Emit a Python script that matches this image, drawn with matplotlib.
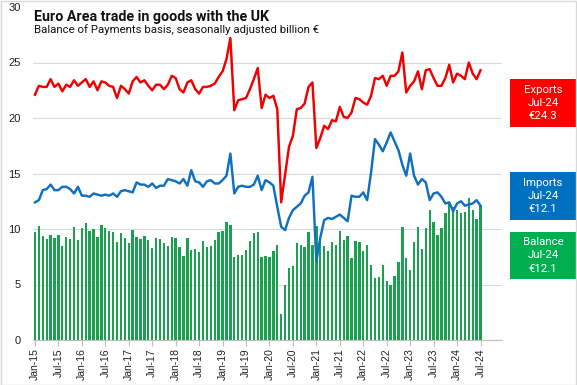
import matplotlib
matplotlib.use("Agg")
import matplotlib.pyplot as plt
from matplotlib.patches import Rectangle
import numpy as np

# ---------------- data (billion EUR, monthly Jan-15 .. Jul-24) ----------------
exports = [22.1, 22.9, 22.8, 22.8, 23.5, 22.8, 23.1, 22.4, 23.0, 22.8,
           23.4, 22.9, 23.2, 23.5, 22.8, 23.3, 22.5, 23.3, 23.2, 22.9,
           22.8, 21.8, 22.9, 22.6, 22.2, 23.3, 23.7, 23.2, 23.4, 22.9,
           22.5, 23.0, 23.0, 22.6, 23.0, 23.8, 23.6, 22.6, 22.3, 23.2,
           23.4, 22.6, 22.2, 22.8, 22.8, 22.9, 23.1, 23.7, 24.2, 25.3,
           27.2, 20.7, 21.6, 21.7, 21.8, 22.6, 23.5, 24.5, 20.9, 22.1,
           21.8, 22.0, 20.8, 12.4, 14.9, 17.4, 18.4, 20.8, 20.9, 21.3,
           22.8, 23.2, 17.3, 18.2, 19.3, 19.0, 19.8, 19.7, 21.0, 20.1,
           20.0, 20.5, 21.8, 21.7, 21.4, 21.2, 22.0, 23.6, 23.5, 23.8,
           22.9, 23.8, 23.8, 24.2, 25.9, 22.3, 22.9, 23.3, 24.2, 22.6,
           24.3, 24.4, 23.6, 22.9, 22.9, 23.6, 24.8, 23.2, 24.0, 23.8,
           23.5, 25.0, 24.0, 23.5, 24.3]

imports = [12.4, 12.6, 13.5, 13.6, 14.0, 13.5, 13.5, 13.8, 13.8, 13.6,
           13.2, 13.8, 13.0, 13.0, 12.9, 13.2, 13.1, 13.0, 13.1, 13.0,
           13.2, 12.9, 13.4, 13.5, 13.4, 13.3, 14.2, 14.0, 14.0, 13.8,
           14.1, 13.7, 13.9, 13.9, 14.5, 14.4, 14.3, 14.1, 14.5, 13.9,
           15.3, 14.3, 14.2, 13.8, 14.3, 14.4, 14.1, 14.1, 14.4, 14.8,
           16.8, 13.2, 13.8, 13.9, 13.8, 13.8, 14.0, 14.8, 13.5, 14.4,
           14.2, 13.9, 12.0, 10.2, 9.9, 11.0, 11.7, 12.0, 12.3, 13.0,
           13.3, 14.7, 7.1, 9.2, 10.8, 11.0, 10.9, 11.1, 11.3, 11.0,
           10.7, 13.0, 12.9, 12.9, 13.3, 12.6, 15.1, 18.1, 17.6, 17.0,
           17.8, 18.7, 17.9, 17.1, 15.8, 14.8, 16.8, 14.8, 14.0, 14.5,
           14.2, 12.6, 13.2, 13.3, 12.9, 12.3, 12.4, 11.6, 12.3, 12.5,
           12.1, 12.2, 12.3, 12.6, 12.1]

balance = [9.7, 10.3, 9.4, 9.1, 9.5, 9.2, 9.5, 8.5, 9.3, 9.1,
           10.2, 9.0, 10.1, 10.5, 9.8, 10.0, 9.3, 10.4, 10.1, 9.8,
           9.7, 8.8, 9.6, 9.2, 8.7, 9.9, 9.3, 9.1, 9.4, 9.0,
           8.3, 9.2, 9.1, 8.7, 8.5, 9.3, 9.2, 8.4, 7.6, 9.2,
           8.1, 8.2, 7.9, 8.9, 8.4, 8.5, 9.0, 9.7, 9.8, 10.6,
           10.4, 7.5, 7.7, 7.7, 8.1, 8.9, 9.6, 9.7, 7.5, 7.6,
           7.5, 8.0, 8.6, 2.3, 5.0, 6.5, 6.7, 8.7, 8.6, 8.4,
           9.7, 8.6, 10.3, 9.0, 8.5, 8.0, 8.8, 8.6, 9.8, 9.0,
           9.4, 7.4, 8.9, 8.8, 8.0, 8.6, 6.8, 5.6, 5.7, 6.8,
           5.3, 5.0, 5.8, 7.0, 10.2, 7.4, 6.3, 8.8, 10.2, 8.2,
           10.1, 11.7, 10.6, 9.5, 10.1, 11.4, 12.3, 12.0, 11.7, 11.4,
           11.5, 12.8, 11.7, 10.9, 12.1]

tick_labels = ["Jan-15", "Jul-15", "Jan-16", "Jul-16", "Jan-17", "Jul-17",
               "Jan-18", "Jul-18", "Jan-19", "Jul-19", "Jan-20", "Jul-20",
               "Jan-21", "Jul-21", "Jan-22", "Jul-22", "Jan-23", "Jul-23",
               "Jan-24", "Jul-24"]
latest_month = "Jul-24"
n_slots = 120  # axis runs Jan-15 .. Dec-24

title = "Euro Area trade in goods with the UK"
subtitle = "Balance of Payments basis, seasonally adjusted billion \u20ac"

# ---------------- styling ----------------
C_EXP = "#F00000"
C_IMP = "#1070C0"
C_BAL = "#19A150"
BOX_EXP = "#FF0000"
BOX_IMP = "#0070C0"
BOX_BAL = "#00B050"

W, H = 577, 385
fig = plt.figure(figsize=(W / 100, H / 100), dpi=100)
fig.patch.set_facecolor("white")

ax = fig.add_axes([33 / W, 45 / H, 469 / W, 333 / H])
x = np.arange(len(exports))
ax.bar(x, balance, width=0.6, color=C_BAL, zorder=2, linewidth=0)
ax.plot(x, imports, color=C_IMP, lw=1.75, zorder=3, solid_joinstyle="round")
ax.plot(x, exports, color=C_EXP, lw=1.75, zorder=3, solid_joinstyle="round")

ax.set_xlim(-0.5, n_slots - 0.5)
ax.set_ylim(0, 30)
ax.set_yticks(range(0, 31, 5))
ax.yaxis.grid(True, color="#d9d9d9", lw=0.8)
ax.set_axisbelow(True)
ax.yaxis.get_gridlines()[-1].set_visible(False)
for s in ["top", "right", "left"]:
    ax.spines[s].set_visible(False)
ax.spines["bottom"].set_color("#bfbfbf")
ax.spines["bottom"].set_linewidth(0.8)
ax.tick_params(axis="y", length=0, pad=9, labelsize=8, labelcolor="#222222")
ax.set_xticks(range(0, len(exports), 6))
ax.set_xticklabels(tick_labels, rotation=90, fontsize=7.5, color="#222222",
                   family="Liberation Sans")
for lab in ax.get_yticklabels():
    lab.set_family("Liberation Sans")
ax.tick_params(axis="x", length=4, color="#bfbfbf", width=0.8, pad=2)

# title / subtitle
fig.text(34 / W, 1 - 21.5 / H, title, fontsize=10.3, fontweight="bold",
         family="Roboto", va="baseline", ha="left", color="#111111")
fig.text(34 / W, 1 - 33 / H, subtitle, fontsize=8.2, family="Roboto",
         va="baseline", ha="left", color="#111111")

# right-hand boxes
boxes = [("Exports", exports[-1], BOX_EXP, 79, 127),
         ("Imports", imports[-1], BOX_IMP, 172, 220),
         ("Balance", balance[-1], BOX_BAL, 232, 279)]
for name, val, col, top, bot in boxes:
    fig.add_artist(Rectangle((510 / W, 1 - bot / H), 66 / W, (bot - top) / H,
                             transform=fig.transFigure, facecolor=col,
                             edgecolor="none"))
    fig.text(543 / W, 1 - (top + bot) / 2 / H,
             f"{name}\n{latest_month}\n\u20ac{val:.1f}",
             ha="center", va="center", color="white", fontsize=8.2,
             family="Roboto", linespacing=1.4)

# figure border
fig.add_artist(Rectangle((0.5 / W, 0.5 / H), (W - 1.5) / W, (H - 1.5) / H,
                         transform=fig.transFigure, facecolor="none",
                         edgecolor="#d9d9d9", lw=1))

fig.savefig("out.png", dpi=100)
